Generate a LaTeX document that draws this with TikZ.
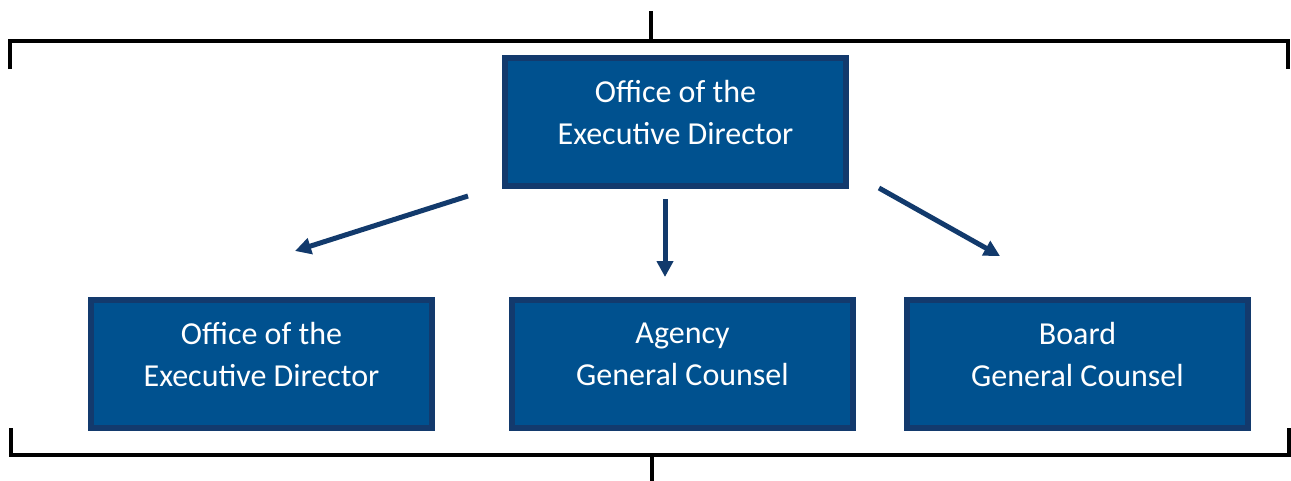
\documentclass[tikz,border=0pt]{standalone}
\usepackage{fontspec}
\setmainfont{Carlito}
\usetikzlibrary{arrows.meta}
\definecolor{boxfill}{RGB}{0,81,143}
\definecolor{boxline}{RGB}{19,58,109}
\definecolor{arrowcol}{RGB}{18,58,108}
\tikzset{
  orgbox/.style={draw=boxline, fill=boxfill, line width=6pt, minimum width=341pt, minimum height=128pt, inner sep=0pt},
  orgtext/.style={text=white, align=center, font=\fontsize{32}{42}\selectfont, inner sep=0pt},
  bracket/.style={draw=black, line width=4pt},
  orgarrow/.style={draw=arrowcol, line width=5pt, -{Triangle[length=16pt,width=16pt]}}
}
\begin{document}
\begin{tikzpicture}[x=1pt,y=-1pt]
\useasboundingbox[fill=white] (0,0) rectangle (1291,480);
% brackets
\coordinate (tl) at (10,69);
\coordinate (tlc) at (10,41);
\coordinate (trc) at (1288,41);
\coordinate (tr) at (1288,69);
\coordinate (tsa) at (651,11);
\coordinate (tsb) at (651,41);
\draw[bracket] (tl) -- (tlc) -- (trc) -- (tr);
\draw[bracket] (tsa) -- (tsb);
\coordinate (bl) at (11,428);
\coordinate (blc) at (11,455);
\coordinate (brc) at (1289,455);
\coordinate (br) at (1289,428);
\coordinate (bsa) at (652,455);
\coordinate (bsb) at (652,482);
\draw[bracket] (bl) -- (blc) -- (brc) -- (br);
\draw[bracket] (bsa) -- (bsb);
% boxes
\node[orgbox] (top) at (675.5,122) {};
\node[orgbox] (left) at (261.5,363.5) {};
\node[orgbox] (mid) at (682.5,363.5) {};
\node[orgbox] (right) at (1077.5,363.5) {};
\node[orgtext] (toptxt) at ([yshift=9pt]top.center) {Office of the\\Executive Director};
\node[orgtext] (lefttxt) at ([yshift=9pt]left.center) {Office of the\\Executive Director};
\node[orgtext] (midtxt) at ([yshift=9pt]mid.center) {Agency\\General Counsel};
\node[orgtext] (righttxt) at ([yshift=9pt]right.center) {Board\\General Counsel};
% arrows
\coordinate (a1s) at (468,196);
\coordinate (a1e) at (295,251);
\coordinate (a2s) at (665,199);
\coordinate (a2e) at (665,277);
\coordinate (a3s) at (879,188);
\coordinate (a3e) at (1000,256);
\draw[orgarrow] (a1s) -- (a1e);
\draw[orgarrow] (a2s) -- (a2e);
\draw[orgarrow] (a3s) -- (a3e);
\end{tikzpicture}
\end{document}
